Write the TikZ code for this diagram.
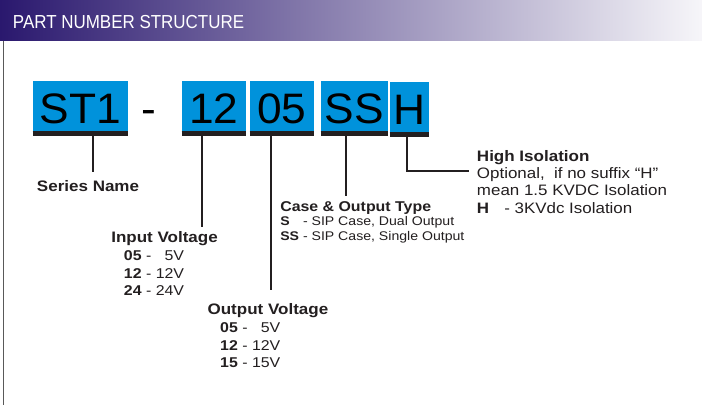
\documentclass[tikz,border=0pt]{standalone}
\usepackage{fontspec}
\usepackage{tikz}
\usetikzlibrary{positioning}
\setmainfont{Liberation Sans}
\newfontfamily\lblfont{Liberation Sans}[FakeStretch=1.12]
\newfontfamily\bigfont{Liberation Sans}[FakeStretch=1.04]
\newfontfamily\hdrfont{Liberation Sans}[FakeStretch=0.9]
\definecolor{codeblue}{RGB}{0,146,219}
\definecolor{hdrpurple}{RGB}{42,24,110}
\definecolor{ink}{RGB}{35,31,32}
\newcommand{\hd}[1]{{\fontsize{10.8}{12.5}\selectfont\bfseries #1}}

\begin{document}
\begin{tikzpicture}[x=0.025cm, y=-0.025cm,
    codebox/.style={rectangle, fill=codeblue, inner sep=0pt, minimum height=1.25cm, text=black,
        font=\bigfont\fontsize{30.3}{32}\selectfont, text height=24.9pt, text depth=0pt},
    underbar/.style={draw=ink, line width=0.125cm},
    stemline/.style={draw=ink, line width=0.05cm},
    textblock/.style={anchor=base west, align=left, text=ink, inner sep=0pt,
        font=\lblfont\fontsize{10.1}{12.5}\selectfont}
]
    \path[fill=white] (0,0) rectangle (702,405);
    % header band
    \shade[left color=hdrpurple, right color=hdrpurple!4] (0,0) rectangle (702,41);
    \node[anchor=base west, inner sep=0pt, text=white, font=\hdrfont\fontsize{13.4}{15}\selectfont]
        (title) at (12.7,28.3) {PART NUMBER STRUCTURE};
    \draw[gray!70!black, line width=0.033cm] (3.5,41) -- (3.5,405);

    % part number
    \node[codebox, minimum width=2.375cm] (st1) at (80.5,106) {ST1};
    \node[codebox, fill=none, minimum width=0.4cm] (sep) at (149,106) {-};
    \node[codebox, minimum width=1.6cm] (vin) at (214,106) {12};
    \node[codebox, minimum width=1.6cm] (vout) at (282,106) {05};
    \node[codebox, minimum width=1.675cm] (case) at (354.5,106) {SS};
    \node[codebox, minimum width=0.975cm] (iso) at (409.5,107) {H};

    \foreach \n in {st1,vin,vout,case,iso}
        \draw[underbar] ([yshift=-0.0625cm]\n.south west) -- ([yshift=-0.0625cm]\n.south east);

    % labels (anchored on the last line)
    \node[textblock] (sername) at (36.7,191.7) {\hd{Series Name}};
    \node[textblock] (vinlbl) at (111,295.7) {\hd{Input Voltage}\\
        \hspace*{9pt}\textbf{05} - \phantom{1}5V\\
        \hspace*{9pt}\textbf{12} - 12V\\
        \hspace*{9pt}\textbf{24} - 24V};
    \node[textblock] (voutlbl) at (207.3,367.7) {\hd{Output Voltage}\\
        \hspace*{9pt}\textbf{05} - \phantom{1}5V\\
        \hspace*{9pt}\textbf{12} - 12V\\
        \hspace*{9pt}\textbf{15} - 15V};
    \node[textblock, font=\lblfont\fontsize{8.95}{10.2}\selectfont] (caselbl) at (280,240)
        {{\fontsize{10.1}{10.2}\selectfont\bfseries Case \& Output Type}\\
        \textbf{S}\phantom{\textbf{S}} - SIP Case, Dual Output\\
        \textbf{SS} - SIP Case, Single Output};
    \node[textblock, font=\lblfont\fontsize{10.75}{12.3}\selectfont] (isolbl) at (476.7,213)
        {\hd{High Isolation}\\
        Optional,\ \ if no suffix “H”\\
        mean 1.5 KVDC Isolation\\
        \textbf{H}\hspace{1em}- 3KVdc Isolation};

    % stems
    \coordinate (sn top) at (92.7,172);
    \coordinate (vin top) at (202.3,227);
    \coordinate (vout top) at (270.7,290);
    \coordinate (case top) at (346,196);
    \coordinate (iso bend) at (407.3,171);
    \coordinate (iso end) at (469.3,171);

    \draw[stemline] (st1.south -| sn top) -- (sn top);
    \draw[stemline] (vin.south -| vin top) -- (vin top);
    \draw[stemline] (vout.south -| vout top) -- (vout top);
    \draw[stemline] (case.south -| case top) -- (case top);
    \draw[stemline] (iso.south -| iso bend) -- (iso bend) -- (iso end);
\end{tikzpicture}
\end{document}
